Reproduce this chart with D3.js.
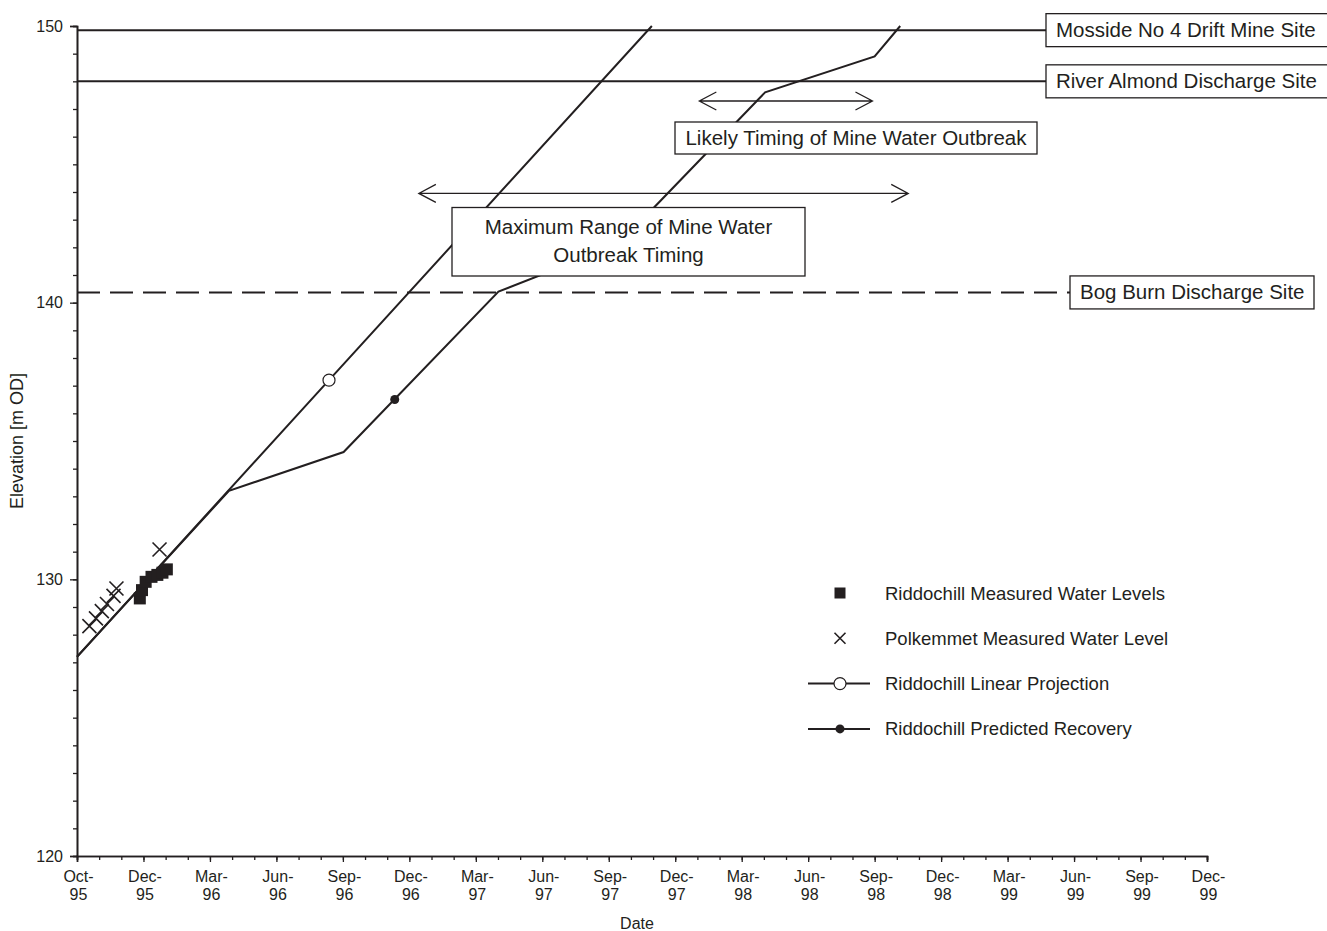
<!DOCTYPE html>
<html lang="en">
<meta charset="utf-8">
<title>Riddochill water level recovery</title>
<style>
    body { margin: 0; background: white; }
    svg  { font-family: "Liberation Sans", Arial, sans-serif; }
</style>
<body>
<svg id="canvas"></svg>
<script src="https://cdn.jsdelivr.net/npm/d3@7"></script>
<script>

    /////////////////////// Data ////////////////////////
    var startDate    = "1995-10-01";
    var tickLabels   = ["Oct-95", "Dec-95", "Mar-96", "Jun-96", "Sep-96", "Dec-96",
                        "Mar-97", "Jun-97", "Sep-97", "Dec-97", "Mar-98", "Jun-98",
                        "Sep-98", "Dec-98", "Mar-99", "Jun-99", "Sep-99", "Dec-99"];
    var yTicks       = [120, 130, 140, 150];

    // Riddochill measured water levels
    var measDates    = ["1995-12-26", "1995-12-29", "1996-01-03", "1996-01-11",
                        "1996-01-19", "1996-01-26", "1996-02-01"];
    var measValues   = [129.31, 129.61, 129.91, 130.09, 130.16, 130.24, 130.36];

    // Polkemmet measured water level
    var polkDates    = ["1995-10-18", "1995-10-27", "1995-11-04", "1995-11-11",
                        "1995-11-20", "1995-11-24", "1996-01-22"];
    var polkValues   = [128.31, 128.59, 128.85, 129.11, 129.40, 129.67, 131.08];

    // Riddochill linear projection
    var linDates     = ["1995-10-01", "1996-09-10", "1997-11-26"];
    var linValues    = [127.2, 137.2, 150.0];
    var linMarkDates = ["1996-09-10"];
    var linMarkVals  = [137.2];

    // Riddochill predicted recovery
    var recDates     = ["1995-10-01", "1996-04-26", "1996-09-30", "1997-04-30",
                        "1997-10-11", "1998-04-30", "1998-09-27", "1998-11-01"];
    var recValues    = [127.2, 133.2, 134.6, 140.4, 142.1, 147.6, 148.9, 150.0];
    var recMarkDates = ["1996-12-09"];
    var recMarkVals  = [136.5];

    // discharge sites
    var siteNames    = ["Mosside No 4 Drift Mine Site", "River Almond Discharge Site",
                        "Bog Burn Discharge Site"];
    var siteLevels   = [149.85, 148.0, 140.37];

    // outbreak timing arrows
    var arrowFrom    = ["1998-01-30", "1997-01-11"];
    var arrowTo      = ["1998-09-24", "1998-11-12"];
    var arrowLevels  = [147.29, 143.95];
    /////////////////////////////////////////////////////

    ///////// Position and Dimension Variables ////////
    var dimensions   = [1327, 931];
    var plot_left    = 77;
    var plot_right   = 1207;
    var plot_top     = 26;
    var plot_bottom  = 856;
    var tick_days    = 91;

    ///////////////// Style Variables /////////////////
    var ink          = '#231f20';
    var font         = '"Liberation Sans", Arial, sans-serif';
    var tick_size    = 16;
    var legend_size  = 18.5;
    var box_size     = 20.5;
    ///////////////////////////////////////////////////

    var parse = d3.utcParse("%Y-%m-%d");
    var t0    = parse(startDate);
    var day   = 24 * 3600 * 1000;
    var t1    = new Date(+t0 + (tickLabels.length - 1) * tick_days * day);

    var x = d3.scaleUtc().domain([t0, t1]).range([plot_left, plot_right]);
    var y = d3.scaleLinear().domain([120, 150]).range([plot_bottom, plot_top]);

    var majorDates = tickLabels.map(function (d, i) { return new Date(+t0 + i * tick_days * day); });
    var minorDates = d3.range(0, (tickLabels.length - 1) * 3 + 1)
                       .map(function (i) { return new Date(+t0 + i * tick_days / 3 * day); });

    var canvas = d3.select("#canvas")
        .attr('width',  dimensions[0])
        .attr('height', dimensions[1]);

    //////////////////// site lines ////////////////////
    var siteBoxes = [
        {x: 1046, w: 282, h: 33},
        {x: 1046, w: 282, h: 33},
        {x: 1070, w: 244, h: 33}
    ];
    siteNames.forEach(function (name, i) {
        canvas.append("line")
            .attr('x1', plot_left)
            .attr('x2', siteBoxes[i].x)
            .attr('y1', y(siteLevels[i]))
            .attr('y2', y(siteLevels[i]))
            .attr('stroke', ink)
            .attr('stroke-width', 2)
            .attr('stroke-dasharray', i == 2 ? "23,10" : null);
    });
    ///////////////////////////////////////////////////

    ////////////////////// series //////////////////////
    var line = d3.line()
        .x(function (d) { return x(parse(d[0])); })
        .y(function (d) { return y(d[1]); });

    canvas.append("path")
        .attr('d', line(d3.zip(linDates, linValues)))
        .attr('fill', 'none')
        .attr('stroke', ink)
        .attr('stroke-width', 2);
    canvas.append("path")
        .attr('d', line(d3.zip(recDates, recValues)))
        .attr('fill', 'none')
        .attr('stroke', ink)
        .attr('stroke-width', 2);

    canvas.selectAll(".linmark")
        .data(d3.zip(linMarkDates, linMarkVals))
        .enter().append("circle")
        .attr('cx', function (d) { return x(parse(d[0])); })
        .attr('cy', function (d) { return y(d[1]); })
        .attr('r', 6)
        .attr('fill', 'white')
        .attr('stroke', ink)
        .attr('stroke-width', 1.2);
    canvas.selectAll(".recmark")
        .data(d3.zip(recMarkDates, recMarkVals))
        .enter().append("circle")
        .attr('cx', function (d) { return x(parse(d[0])); })
        .attr('cy', function (d) { return y(d[1]); })
        .attr('r', 4.5)
        .attr('fill', ink);

    var cross = function (sel, s) {
        sel.append("path")
            .attr('d', "M" + (-s) + "," + (-s) + "L" + s + "," + s +
                       "M" + (-s) + "," + s + "L" + s + "," + (-s))
            .attr('stroke', ink)
            .attr('stroke-width', 1.6)
            .attr('fill', 'none');
    };
    canvas.selectAll(".polk")
        .data(d3.zip(polkDates, polkValues))
        .enter().append("g")
        .attr('transform', function (d) { return "translate(" + x(parse(d[0])) + "," + y(d[1]) + ")"; })
        .call(cross, 7);

    canvas.selectAll(".meas")
        .data(d3.zip(measDates, measValues))
        .enter().append("rect")
        .attr('x', function (d) { return x(parse(d[0])) - 6; })
        .attr('y', function (d) { return y(d[1]) - 6; })
        .attr('width', 12)
        .attr('height', 12)
        .attr('fill', ink);
    ///////////////////////////////////////////////////

    ////////////////////// arrows //////////////////////
    arrowLevels.forEach(function (lv, i) {
        var xa = x(parse(arrowFrom[i])), xb = x(parse(arrowTo[i])), ya = y(lv);
        canvas.append("path")
            .attr('d', "M" + xa + "," + ya + "L" + xb + "," + ya +
                       "M" + (xa + 17) + "," + (ya - 9) + "L" + xa + "," + ya + "L" + (xa + 17) + "," + (ya + 9) +
                       "M" + (xb - 17) + "," + (ya - 9) + "L" + xb + "," + ya + "L" + (xb - 17) + "," + (ya + 9))
            .attr('fill', 'none')
            .attr('stroke', ink)
            .attr('stroke-width', 1.3);
    });
    ///////////////////////////////////////////////////

    /////////////////////// boxes //////////////////////
    siteNames.forEach(function (name, i) {
        var b = siteBoxes[i], cy = y(siteLevels[i]);
        canvas.append("rect")
            .attr('x', b.x).attr('y', cy - b.h / 2)
            .attr('width', b.w).attr('height', b.h)
            .attr('fill', 'white').attr('stroke', ink).attr('stroke-width', 1.3);
        canvas.append("text")
            .attr('x', b.x + 10).attr('y', cy + 7)
            .attr('font-size', box_size)
            .attr('fill', ink)
            .text(name);
    });

    canvas.append("rect")
        .attr('x', 675).attr('y', 122).attr('width', 362).attr('height', 32)
        .attr('fill', 'white').attr('stroke', ink).attr('stroke-width', 1.3);
    canvas.append("text")
        .attr('x', 856).attr('y', 145)
        .attr('text-anchor', 'middle').attr('font-size', box_size).attr('fill', ink)
        .text("Likely Timing of Mine Water Outbreak");

    canvas.append("rect")
        .attr('x', 452).attr('y', 207.5).attr('width', 353).attr('height', 68.5)
        .attr('fill', 'white').attr('stroke', ink).attr('stroke-width', 1.3);
    canvas.append("text")
        .attr('x', 628.5).attr('y', 234)
        .attr('text-anchor', 'middle').attr('font-size', box_size).attr('fill', ink)
        .text("Maximum Range of Mine Water");
    canvas.append("text")
        .attr('x', 628.5).attr('y', 262)
        .attr('text-anchor', 'middle').attr('font-size', box_size).attr('fill', ink)
        .text("Outbreak Timing");
    ///////////////////////////////////////////////////

    /////////////////////// axes ///////////////////////
    var yMinor = canvas.append("g")
        .attr('transform', "translate(" + plot_left + ",0)")
        .call(d3.axisLeft(y).tickValues(d3.range(120, 151, 1)).tickSize(4).tickFormat(""));
    var yAxis = canvas.append("g")
        .attr('transform', "translate(" + plot_left + ",0)")
        .call(d3.axisLeft(y).tickValues(yTicks).tickSize(7).tickPadding(7));
    yAxis.attr('font-size', tick_size).attr('font-family', font);
    yAxis.selectAll("text").attr('fill', ink);

    var xMinor = canvas.append("g")
        .attr('transform', "translate(0," + plot_bottom + ")")
        .call(d3.axisBottom(x).tickValues(minorDates).tickSize(4).tickFormat(""));
    var xAxis = canvas.append("g")
        .attr('transform', "translate(0," + plot_bottom + ")")
        .call(d3.axisBottom(x).tickValues(majorDates).tickSize(6).tickFormat(""));
    xAxis.attr('font-size', tick_size).attr('font-family', font);
    xAxis.selectAll(".tick").each(function (d, i) {
        var parts = tickLabels[i].split("-");
        var t = d3.select(this).append("text")
            .attr('fill', ink)
            .attr('text-anchor', 'middle');
        t.append("tspan").attr('x', 1).attr('y', 26).text(parts[0] + "-");
        t.append("tspan").attr('x', 1).attr('y', 44).text(parts[1]);
    });

    [yMinor, yAxis, xMinor, xAxis].forEach(function (g) {
        g.selectAll("line").attr('stroke', ink).attr('stroke-width', 1.3);
        g.selectAll(".domain").attr('stroke', ink).attr('stroke-width', 1.6);
    });

    canvas.append("text")
        .attr('x', 637).attr('y', 929)
        .attr('text-anchor', 'middle').attr('font-size', 16).attr('fill', ink)
        .text("Date");
    canvas.append("text")
        .attr('transform', "translate(23," + ((plot_top + plot_bottom) / 2) + ") rotate(-90)")
        .attr('text-anchor', 'middle').attr('font-size', 18).attr('fill', ink)
        .text("Elevation [m OD]");
    ///////////////////////////////////////////////////

    ////////////////////// legend //////////////////////
    var legendNames = ["Riddochill Measured Water Levels", "Polkemmet Measured Water Level",
                       "Riddochill Linear Projection", "Riddochill Predicted Recovery"];
    var legend = canvas.append("g").attr('transform', "translate(840,593)");
    legendNames.forEach(function (name, i) {
        var g = legend.append("g").attr('transform', "translate(0," + (i * 45.3) + ")");
        if (i == 0) {
            g.append("rect").attr('x', -5.5).attr('y', -5.5).attr('width', 11).attr('height', 11).attr('fill', ink);
        } else if (i == 1) {
            g.call(cross, 5.5);
        } else {
            g.append("line").attr('x1', -32).attr('x2', 30).attr('stroke', ink).attr('stroke-width', 2);
            if (i == 2) g.append("circle").attr('r', 6).attr('fill', 'white').attr('stroke', ink).attr('stroke-width', 1.2);
            else        g.append("circle").attr('r', 4.5).attr('fill', ink);
        }
        g.append("text")
            .attr('x', 45).attr('y', 6.5)
            .attr('font-size', legend_size).attr('fill', ink)
            .text(name);
    });
    ///////////////////////////////////////////////////

</script>
</body>
</html>
